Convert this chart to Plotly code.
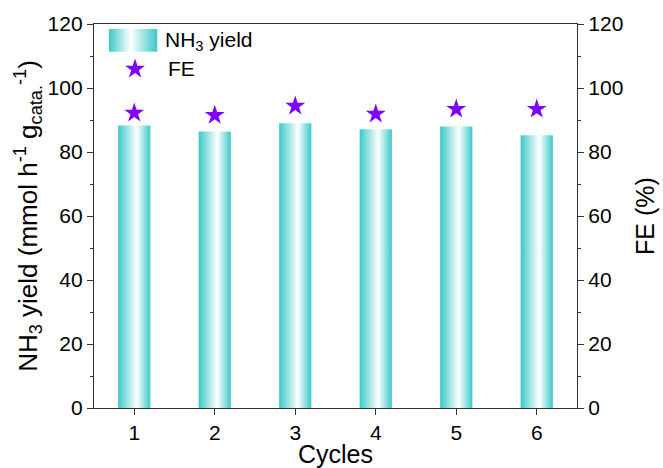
import plotly.graph_objects as go

cycles = [1, 2, 3, 4, 5, 6]
nh3_yield = [88.3, 86.4, 89.0, 87.1, 88.0, 85.2]
fe = [92.2, 91.5, 94.4, 91.9, 93.4, 93.4]
y_ticks = [0, 20, 40, 60, 80, 100, 120]

bar_half = 0.2
teal = "#3CC8C8"
grad = [[0.0, teal], [0.58, "#FFFFFF"], [1.0, teal]]
legend_grad = [[0.0, teal], [0.45, "#FFFFFF"], [1.0, teal]]

fig = go.Figure()
for i, (c, v) in enumerate(zip(cycles, nh3_yield)):
    fig.add_trace(go.Scatter(
        x=[c - bar_half, c + bar_half, c + bar_half, c - bar_half, c - bar_half],
        y=[0, 0, v, v, 0],
        mode="lines", line=dict(width=0), fill="toself",
        fillgradient=dict(type="horizontal", colorscale=grad),
        name="NH<sub>3</sub> yield", showlegend=False, hoverinfo="skip",
    ))

fig.add_trace(go.Scatter(
    x=cycles, y=fe, mode="markers", yaxis="y2", name="FE", showlegend=False,
    marker=dict(symbol="star", size=15, color="#7F00FF", line=dict(width=0)),
))

# manual legend on a hidden overlay axis in plot-fraction units
lx0, lx1, ly0, ly1 = 0.031, 0.131, 0.928, 0.987
fig.add_trace(go.Scatter(
    x=[lx0, lx1, lx1, lx0, lx0], y=[ly0, ly0, ly1, ly1, ly0],
    xaxis="x3", yaxis="y3", mode="lines", line=dict(width=0), fill="toself",
    fillgradient=dict(type="horizontal", colorscale=legend_grad),
    showlegend=False, hoverinfo="skip",
))
fig.add_trace(go.Scatter(
    x=[0.085], y=[0.883], xaxis="x3", yaxis="y3", mode="markers",
    marker=dict(symbol="star", size=15, color="#7F00FF", line=dict(width=0)),
    showlegend=False, hoverinfo="skip",
))
fig.add_annotation(x=0.143, y=0.957, xref="x3", yref="y3", text="NH<sub>3</sub> yield",
                   showarrow=False, xanchor="left", yanchor="middle", font=dict(size=21, color="#000000"))
fig.add_annotation(x=0.150, y=0.883, xref="x3", yref="y3", text="FE",
                   showarrow=False, xanchor="left", yanchor="middle", font=dict(size=21, color="#000000"))

axis_common = dict(
    showline=True, linecolor="#333333", linewidth=1.3, automargin=False,
    ticks="outside", ticklen=6, tickcolor="#333333", showgrid=False, zeroline=False,
    tickfont=dict(size=21, color="#000000"),
)

fig.update_layout(
    width=663, height=468,
    margin=dict(l=94, r=86, t=24, b=60, autoexpand=False),
    plot_bgcolor="white", paper_bgcolor="white",
    font=dict(family="Liberation Sans, Arial", color="#000000"),
    xaxis=dict(range=[0.5, 6.5], tickvals=cycles, mirror=True,
               title=dict(text="Cycles", font=dict(size=25), standoff=2),
               **axis_common),
    yaxis=dict(range=[0, 120], tickvals=y_ticks,
               minor=dict(ticks="outside", ticklen=3, dtick=10, tickcolor="#333333"),
               title=dict(text="NH<sub>3</sub> yield (mmol h<sup>-1</sup> g<sub>cata.</sub><sup>-1</sup>)",
                          font=dict(size=26), standoff=2),
               **axis_common),
    yaxis2=dict(range=[0, 120], tickvals=y_ticks, overlaying="y", side="right",
                minor=dict(ticks="outside", ticklen=3, dtick=10, tickcolor="#333333"),
                title=dict(text="FE (%)", font=dict(size=25), standoff=14),
                **axis_common),
    xaxis3=dict(range=[0, 1], overlaying="x", visible=False, fixedrange=True),
    yaxis3=dict(range=[0, 1], overlaying="y", visible=False, fixedrange=True),
    showlegend=False,
)

fig.write_html("out.html")
